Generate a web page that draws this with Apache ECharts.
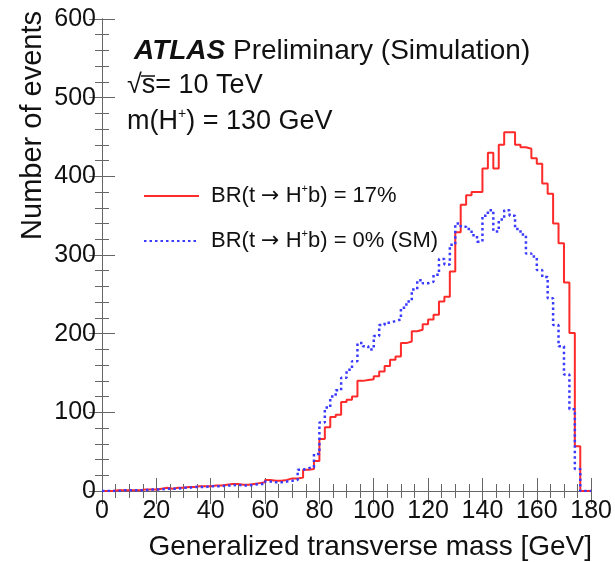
<!DOCTYPE html>
<html><head><meta charset="utf-8">
<script src="https://cdn.jsdelivr.net/npm/echarts@6/dist/echarts.min.js"></script>
<style>html,body{margin:0;padding:0;background:#fff}#c{width:615px;height:562px}</style>
</head><body><div id="c"></div>
<script>
// Histogram: 2 GeV bins from 0 to 180 GeV
const binWidth = 2;
const xRange = [0, 180];
const yRange = [0, 600];
const seriesNames = ['BR(t → H+b) = 17%', 'BR(t → H+b) = 0% (SM)'];
// BR(t -> H+b) = 17%
const signal = [
  0, 0, 1, 1, 1, 1, 1, 2, 2, 2,
  3, 4, 3, 4, 4, 5, 5, 6, 6, 6,
  7, 7, 8, 9, 9, 8, 8, 9, 10, 11,
  14, 13, 13, 14, 16, 16, 17, 27, 28, 38,
  66, 81, 94, 97, 113, 116, 120, 140, 141, 142,
  146, 152, 159, 167, 171, 188, 190, 203, 205, 212,
  218, 224, 241, 247, 279, 329, 364, 376, 380, 380,
  410, 430, 410, 440, 456, 456, 440, 437, 435, 423,
  416, 391, 378, 340, 315, 265, 201, 57, 0, 0
];
// BR(t -> H+b) = 0% (SM)
const sm = [
  0, 0, 0, 1, 1, 1, 1, 1, 2, 2,
  2, 3, 3, 3, 4, 4, 5, 5, 5, 6,
  6, 6, 7, 7, 8, 7, 7, 8, 9, 9,
  12, 11, 11, 12, 13, 14, 27, 29, 30, 47,
  87, 106, 120, 128, 144, 154, 165, 188, 184, 180,
  197, 211, 214, 216, 218, 233, 241, 256, 268, 264,
  266, 275, 295, 288, 313, 340, 336, 333, 325, 317,
  350, 357, 330, 345, 357, 350, 333, 326, 302, 298,
  281, 272, 245, 211, 184, 148, 104, 28, 0, 0
];

function toSteps(vals) {
  const pts = vals.map((v, i) => [i * binWidth, v]);
  pts.push([vals.length * binWidth, 0]);
  return pts;
}

const FONT = "'Liberation Sans', Arial, Helvetica, sans-serif";
const FRAME = '#666';
const TXT = '#111';

function richLabel(s) { return s.replace('H+', 'H{sup|+}').replace('→', '{arr|→}'); }

const baseX = {
  type: 'value', min: xRange[0], max: xRange[1], interval: 20,
  splitLine: { show: false },
  axisLine: { show: true, lineStyle: { color: FRAME, width: 1 } },
  axisTick: { show: true, inside: true, length: 13, lineStyle: { color: FRAME } },
  minorTick: { show: true, splitNumber: 4, length: 7, lineStyle: { color: FRAME } },
  minorSplitLine: { show: false }
};
const baseY = {
  type: 'value', min: yRange[0], max: yRange[1], interval: 100,
  splitLine: { show: false },
  axisLine: { show: true, lineStyle: { color: FRAME, width: 1 } },
  axisTick: { show: true, inside: true, length: 13, lineStyle: { color: FRAME } },
  minorTick: { show: true, splitNumber: 5, length: 7, lineStyle: { color: FRAME } },
  minorSplitLine: { show: false }
};

const chart = echarts.init(document.getElementById('c'), null, { renderer: 'canvas' });
chart.setOption({
  animation: false,
  backgroundColor: '#fff',
  textStyle: { fontFamily: FONT },
  grid: { left: 102, top: 19, right: 22, bottom: 71, containLabel: false },
  xAxis: [
    Object.assign({}, baseX, { position: 'bottom',
      axisLabel: { fontSize: 25, color: TXT, margin: 8, fontFamily: FONT } }),
    Object.assign({}, baseX, { position: 'top', axisLabel: { show: false } })
  ],
  yAxis: [
    Object.assign({}, baseY, { position: 'left',
      axisLabel: { fontSize: 25, color: TXT, margin: 6, fontFamily: FONT } }),
    Object.assign({}, baseY, { position: 'right', axisLabel: { show: false } })
  ],
  title: [
    { text: '{a|ATLAS} Preliminary (Simulation)', left: 134, top: 37, padding: 0,
      textStyle: { fontSize: 28, fontWeight: 'normal', color: TXT, fontFamily: FONT,
        rich: { a: { fontSize: 28, fontWeight: 'bold', fontStyle: 'italic', color: TXT, fontFamily: FONT } } } },
    { text: '√s= 10 TeV', left: 127, top: 72, padding: 0,
      textStyle: { fontSize: 27, fontWeight: 'normal', color: TXT, fontFamily: FONT } },
    { text: 'm(H{sup|+}) = 130 GeV', left: 127, top: 107, padding: 0,
      textStyle: { fontSize: 27, fontWeight: 'normal', color: TXT, fontFamily: FONT, lineHeight: 30,
        rich: { sup: { fontSize: 14, verticalAlign: 'top', lineHeight: 14, color: TXT, fontFamily: FONT } } } }
  ],
  legend: {
    orient: 'vertical', left: 138, top: 178, itemWidth: 55, itemHeight: 14, itemGap: 19,
    selectedMode: false,
    data: seriesNames,
    formatter: richLabel,
    itemStyle: { opacity: 0 },
    textStyle: { fontSize: 22, color: TXT, fontFamily: FONT, lineHeight: 26, padding: [0, 0, 0, 7],
      rich: {
        sup: { fontSize: 11, verticalAlign: 'top', lineHeight: 11, color: TXT, fontFamily: FONT },
        arr: { fontSize: 22, color: TXT, fontFamily: "'DejaVu Sans', sans-serif", lineHeight: 26 }
      } }
  },
  graphic: [
    { type: 'line', shape: { x1: 141, y1: 76, x2: 155, y2: 76 }, style: { stroke: TXT, lineWidth: 1.5 } },
    { type: 'text', x: 33, y: 11, rotation: Math.PI / 2,
      style: { text: 'Number of events', fontSize: 29, fontFamily: FONT, fill: TXT, align: 'right', verticalAlign: 'middle' } },
    { type: 'text', x: 592, y: 547,
      style: { text: 'Generalized transverse mass [GeV]', fontSize: 28, fontFamily: FONT, fill: TXT, align: 'right', verticalAlign: 'middle' } }
  ],
  series: [
    { name: seriesNames[0], type: 'line', step: 'end', symbol: 'none', xAxisIndex: 0, yAxisIndex: 0,
      data: toSteps(signal), lineStyle: { color: '#ff2a2a', width: 2 }, itemStyle: { color: '#ff2a2a' }, z: 3 },
    { name: seriesNames[1], type: 'line', step: 'end', symbol: 'none', xAxisIndex: 0, yAxisIndex: 0,
      data: toSteps(sm), lineStyle: { color: '#3a3aff', width: 2.5, type: [2.5, 3] }, itemStyle: { color: '#3a3aff' }, z: 4 }
  ]
});
</script></body></html>
